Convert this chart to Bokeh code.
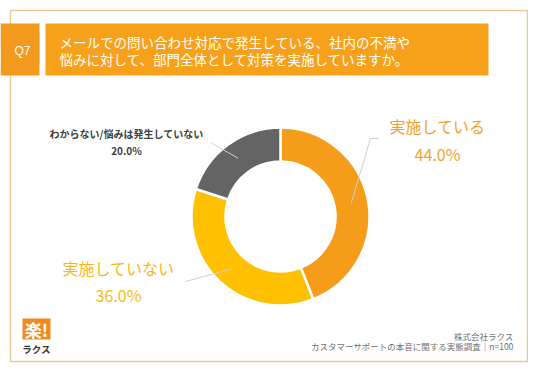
import math
from bokeh.plotting import figure
from bokeh.models import Range1d, ColumnDataSource
from bokeh.core.properties import value
from bokeh.embed import file_html
from bokeh.resources import INLINE

# ---- data ----
categories = ["実施している", "実施していない", "わからない/悩みは発生していない"]
percents = [44.0, 36.0, 20.0]
colors = ["#F59C1A", "#FFC000", "#646464"]
label_colors = ["#F2A02E", "#F5BA12", "#404040"]

q_label = "Q7"
title_lines = ["メールでの問い合わせ対応で発生している、社内の不満や",
               "悩みに対して、部門全体として対策を実施していますか。"]
footer_lines = ["株式会社ラクス", "カスタマーサポートの本音に関する実態調査｜n=100"]

# ---- layout (pixel coordinates of the reference picture) ----
W, H = 528, 363
OFF = 0
def X(px): return px - OFF
def Y(py): return (H + OFF) - py

JP = "Noto Sans CJK JP"
cx, cy = 280, 216
r_in, r_out = 55, 89
# label layout: (x, name_y, pct_y, size, bold), leader end point
label_layout = [
    (437, 125, 153, "16px", "normal", (370, 138), (378, 138)),
    (118, 267, 294, "16px", "normal", (185, 281), None),
    (126, 133, 150, "10px", "bold", (210, 142), None),
]

p = figure(width=W, height=H, output_backend="svg", toolbar_location=None,
           x_range=Range1d(0, W), y_range=Range1d(0, H),
           min_border=0, outline_line_color=None, background_fill_color="white")
p.axis.visible = False
p.grid.visible = False

# frame border
p.quad(left=[X(10)], right=[X(527)], top=[Y(10)], bottom=[Y(361)],
       fill_color=None, line_color="#EBCB94", line_width=1.5)

# header boxes
p.quad(left=[X(0)], right=[X(39)], top=[Y(23)], bottom=[Y(75)],
       fill_color="#F39A1E", line_color=None)
p.quad(left=[X(45)], right=[X(488)], top=[Y(23)], bottom=[Y(75)],
       fill_color="#F7A11A", line_color=None)
p.text(x=[X(22)], y=[Y(50)], text=[q_label], text_color="white",
       text_font=value("Liberation Sans"), text_font_size="12px",
       text_align="center", text_baseline="middle")
p.text(x=[X(59), X(59)], y=[Y(41), Y(58)], text=title_lines, text_color="white",
       text_font=value(JP), text_font_size="13.5px",
       text_align="left", text_baseline="middle")

# donut
total = sum(percents)
starts, ends, mids = [], [], []
acc = 0.0
for v in percents:
    a0 = math.pi / 2 - 2 * math.pi * acc / total
    a1 = math.pi / 2 - 2 * math.pi * (acc + v) / total
    starts.append(a0)
    ends.append(a1)
    mids.append((a0 + a1) / 2)
    acc += v
src = ColumnDataSource(dict(start=starts, end=ends, color=colors, cat=categories))
p.annular_wedge(x=X(cx), y=Y(cy), inner_radius=r_in, outer_radius=r_out,
                start_angle="start", end_angle="end", direction="clock",
                fill_color="color", line_color="white", line_width=2.5, source=src)

# leader lines and labels
r_mid = (r_in + r_out) / 2
for i, (cat, v) in enumerate(zip(categories, percents)):
    lx, ny, py_, size, style, end, end2 = label_layout[i]
    sx = X(cx) + r_mid * math.cos(mids[i])
    sy = Y(cy) + r_mid * math.sin(mids[i])
    xs = [sx, X(end[0])]
    ys = [sy, Y(end[1])]
    if end2:
        xs.append(X(end2[0]))
        ys.append(Y(end2[1]))
    p.line(x=xs, y=ys, line_color="#D0D0D0", line_width=1)
    p.text(x=[X(lx), X(lx)], y=[Y(ny), Y(py_)], text=[cat, f"{v:.1f}%"],
           text_color=label_colors[i], text_font=value(JP), text_font_size=size,
           text_font_style=style, text_align="center", text_baseline="middle")

# logo
p.quad(left=[X(22)], right=[X(50)], top=[Y(318)], bottom=[Y(339)],
       fill_color="#F08A1E", line_color=None)
p.text(x=[X(36)], y=[Y(329)], text=["楽!"], text_color="white",
       text_font=value(JP), text_font_size="17px", text_font_style="bold",
       text_align="center", text_baseline="middle")
p.text(x=[X(36)], y=[Y(348)], text=["ラクス"], text_color="#333333",
       text_font=value(JP), text_font_size="9.5px", text_font_style="bold",
       text_align="center", text_baseline="middle")

# footer
p.text(x=[X(513), X(513)], y=[Y(335), Y(345)], text=footer_lines,
       text_color="#707070", text_font=value(JP), text_font_size="8.5px",
       text_align="right", text_baseline="middle")

open("out.html", "w").write(file_html(p, INLINE))
